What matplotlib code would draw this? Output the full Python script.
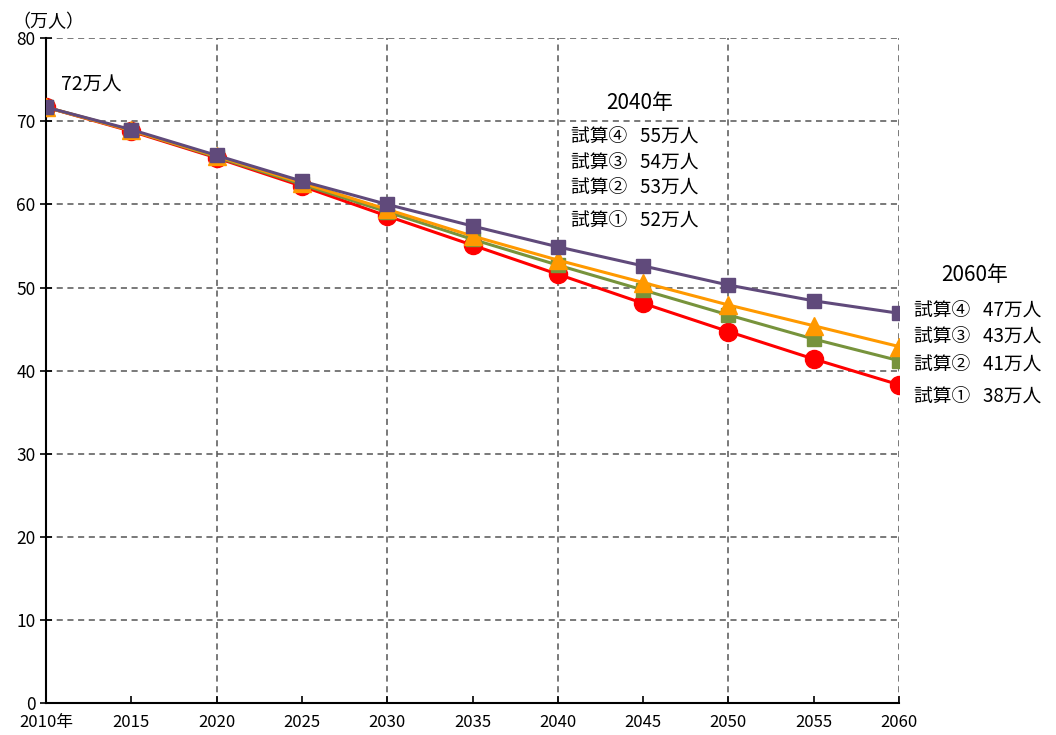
import matplotlib
matplotlib.use("Agg")
import matplotlib.pyplot as plt

plt.rcParams['font.family'] = ['Noto Sans CJK JP', 'DejaVu Sans']

years = [2010, 2015, 2020, 2025, 2030, 2035, 2040, 2045, 2050, 2055, 2060]
xtick_labels = ['2010年', '2015', '2020', '2025', '2030', '2035', '2040', '2045', '2050', '2055', '2060']
case1 = [71.7, 68.8, 65.6, 62.2, 58.6, 55.1, 51.6, 48.1, 44.7, 41.4, 38.3]
case2 = [71.7, 68.9, 65.7, 62.4, 59.1, 55.8, 52.7, 49.7, 46.7, 43.8, 41.2]
case3 = [71.7, 68.9, 65.8, 62.6, 59.4, 56.2, 53.3, 50.6, 47.9, 45.4, 42.9]
case4 = [71.7, 69.0, 65.9, 62.8, 60.0, 57.4, 54.9, 52.6, 50.3, 48.4, 46.9]

labels_2040 = ['試算④   55万人', '試算③   54万人', '試算②   53万人', '試算①   52万人']
labels_2060 = ['試算④   47万人', '試算③   43万人', '試算②   41万人', '試算①   38万人']

fig = plt.figure(figsize=(10.56, 7.35), dpi=100)
ax = fig.add_axes([0.0436, 0.0435, 0.8077, 0.9045])

ax.plot(years, case1, color='#FF0000', lw=2.2, marker='o', ms=13, mec='#FF0000', zorder=3)
ax.plot(years, case2, color='#77933C', lw=2.2, marker='s', ms=10, mec='#77933C', zorder=4)
ax.plot(years, case3, color='#FF9900', lw=2.2, marker='^', ms=13, mec='#FF9900', zorder=5)
ax.plot(years, case4, color='#604A7B', lw=2.2, marker='s', ms=10, mec='#604A7B', zorder=6)

ax.set_xlim(2010, 2060)
ax.set_ylim(0, 80)
ax.set_xticks(years)
ax.set_xticklabels(xtick_labels, fontsize=12)
ax.set_yticks(range(0, 81, 10))
ax.tick_params(axis='y', labelsize=12.5, direction='inout', length=8, width=1.2)
ax.tick_params(axis='x', direction='in', length=5, width=1.2, pad=8)

ax.grid(True, axis='y', color='#555555', linestyle=(0, (4, 3)), linewidth=1.1)
for xv in years[2::2]:
    ax.axvline(xv, color='#555555', linestyle=(0, (4, 3)), linewidth=1.1, zorder=0)
ax.set_axisbelow(True)
for s in ['top', 'right']:
    ax.spines[s].set_visible(False)
ax.spines['left'].set_linewidth(1.5)
ax.spines['bottom'].set_linewidth(1.5)

fig.text(0.012, 0.970, '（万人）', fontsize=13, ha='left', va='center')
ax.text(2010.9, 74.3, '72万人', fontsize=14, ha='left', va='center')

ax.text(2044.8, 72.2, '2040年', fontsize=15, ha='center', va='center')
ys40 = [68.1, 65.0, 62.0, 58.0]
for t, y in zip(labels_2040, ys40):
    ax.text(2040.8, y, t, fontsize=13.5, ha='left', va='center')

fig.text(0.923, 0.626, '2060年', fontsize=15, ha='center', va='center')
ys60 = [0.576, 0.541, 0.503, 0.459]
for t, y in zip(labels_2060, ys60):
    fig.text(0.866, y, t, fontsize=13.5, ha='left', va='center')

fig.savefig('out.png', dpi=100)
